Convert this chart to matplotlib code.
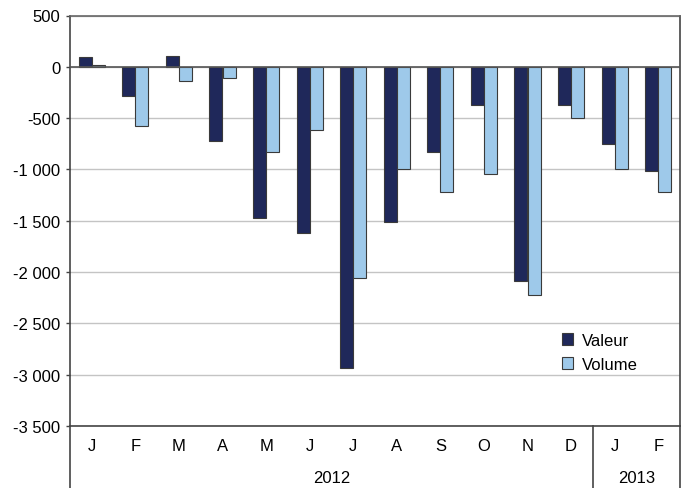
import numpy as np
import matplotlib
matplotlib.use("Agg")
from matplotlib import pyplot as plt
from matplotlib.ticker import FuncFormatter
import matplotlib.transforms as mtransforms

plt.rcParams['font.family'] = ['Liberation Sans', 'DejaVu Sans']

# données
mois = ['J', 'F', 'M', 'A', 'M', 'J', 'J', 'A', 'S', 'O', 'N', 'D', 'J', 'F']
annees = ['2012', '2013']
mois_par_annee = [12, 2]
valeur = [91, -284, 103, -726, -1474, -1623, -2930, -1516, -829, -371, -2091, -371, -752, -1016]
volume = [14, -574, -135, -106, -826, -620, -2058, -1000, -1220, -1042, -2226, -500, -1000, -1220]

c_valeur = '#1f285a'
c_volume = '#9ec9ea'
c_bord = '#3a3a3a'

fig = plt.figure(figsize=(6.83, 4.89), dpi=100)
ax = fig.add_axes([70 / 683, 1 - 427 / 489, 610 / 683, 410.5 / 489])

x = np.arange(len(mois))
w = 0.3
ax.bar(x - w / 2, valeur, w, color=c_valeur, edgecolor=c_bord, linewidth=0.8, label='Valeur', zorder=3)
ax.bar(x + w / 2, volume, w, color=c_volume, edgecolor=c_bord, linewidth=0.8, label='Volume', zorder=3)

ax.set_xlim(-0.5, len(mois) - 0.5)
ax.set_ylim(-3500, 500)
ax.set_yticks(np.arange(-3500, 501, 500))
ax.yaxis.set_major_formatter(FuncFormatter(lambda v, p: f'{int(v):,}'.replace(',', ' ')))
ax.grid(axis='y', color='#c4c4c4', linewidth=1, zorder=0)
ax.axhline(0, color='#555555', linewidth=1.2, zorder=4)

for s in ['top', 'right', 'left', 'bottom']:
    ax.spines[s].set_color('#444444')
    ax.spines[s].set_linewidth(1.2)
ax.spines['top'].set_color('#666666')

ax.tick_params(axis='y', labelsize=12, length=3, width=1, color='#444444', pad=4)
ax.set_xticks(x)
ax.set_xticklabels(mois, fontsize=12)
ax.tick_params(axis='x', length=0, pad=9)

# séparateurs et années sous l'axe
trans = mtransforms.blended_transform_factory(ax.transData, ax.transAxes)
bas = -62 / 410.5
debut = -0.5
for annee, n in zip(annees, mois_par_annee):
    fin = debut + n
    ax.text((debut + fin) / 2, -52 / 410.5, annee, transform=trans, ha='center', va='center', fontsize=12)
    debut = fin
for xs in [-0.5, 11.5, len(mois) - 0.5]:
    ax.plot([xs, xs], [0, bas], transform=trans, color='#444444', linewidth=1.2, clip_on=False)

ax.legend(loc='upper left', bbox_to_anchor=(0.795, 0.243), frameon=False, fontsize=12,
          handlelength=0.7, handleheight=0.7, handletextpad=0.5, labelspacing=0.55,
          borderaxespad=0)

fig.savefig('out.png', dpi=100)
